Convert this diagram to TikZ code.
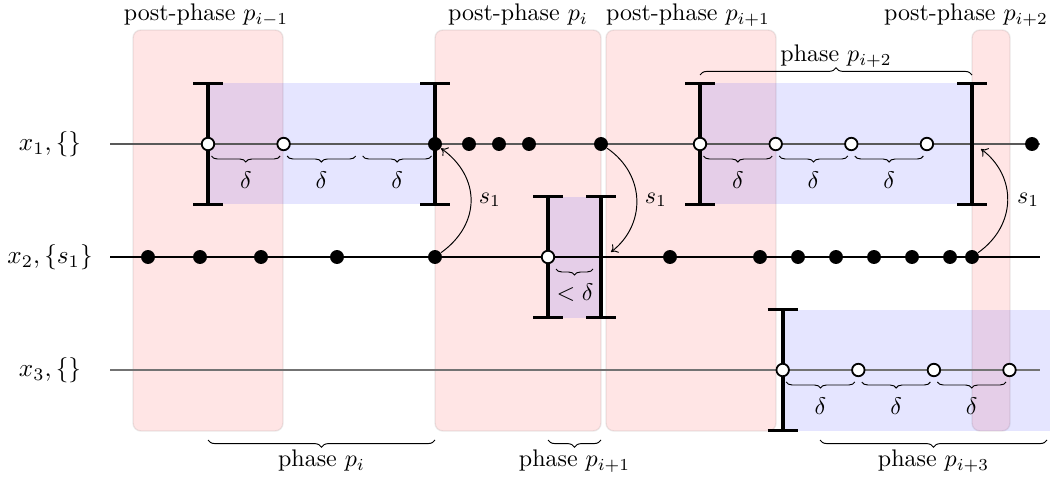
\documentclass[tikz,border=0pt]{standalone}
\usetikzlibrary{decorations.pathreplacing,arrows.meta}
\begin{document}
\begin{tikzpicture}[x=0.4167pt,y=-0.4167pt,
  fdot/.style={circle,fill=black,inner sep=0pt,minimum size=5.8pt},
  odot/.style={circle,draw=black,fill=white,line width=0.75pt,inner sep=0pt,minimum size=5.2pt},
  postbox/.style={fill=red,fill opacity=0.1,draw=black,draw opacity=0.08,line width=0.6pt,rounded corners=3.3pt},
  phasebox/.style={fill=blue,fill opacity=0.1},
  ibar/.style={line width=1.6pt},
  dbrace/.style={decorate,decoration={brace,mirror,amplitude=2.5pt},line width=0.4pt},
  pbrace/.style={decorate,decoration={brace,amplitude=3pt},line width=0.4pt},
  pbracem/.style={decorate,decoration={brace,mirror,amplitude=3pt},line width=0.4pt},
  sarrow/.style={-{To[length=2.6pt,width=4.4pt]},line width=0.4pt},
  lbl/.style={inner sep=1pt},
  rowlbl/.style={inner sep=1pt,scale=1.05}
]
\useasboundingbox (0,0) rectangle (1057,480);

% post-phase boxes
\draw[postbox] (133,30) rectangle (283,431);
\draw[postbox] (435,30) rectangle (601,431);
\draw[postbox] (606,30) rectangle (776,431);
\draw[postbox] (972,30) rectangle (1010,431);

% phase boxes
\fill[phasebox] (208,83) rectangle (435,204);
\fill[phasebox] (548,197) rectangle (601,318);
\fill[phasebox] (700,83) rectangle (972,204);
\fill[phasebox] (782,310) rectangle (1050,431);

% process lines
\coordinate (l1s) at (110,144); \coordinate (l1e) at (1040,144);
\coordinate (l2s) at (110,257); \coordinate (l2e) at (1040,257);
\coordinate (l3s) at (110,370); \coordinate (l3e) at (1040,370);
\draw[black!65,line width=0.5pt] (l1s) -- (l1e);
\draw[black,line width=0.5pt] (l2s) -- (l2e);
\draw[black!55,line width=0.8pt] (l3s) -- (l3e);

% row labels
\node[rowlbl] (r1) at (50,144) {$x_1, \{\}$};
\node[rowlbl] (r2) at (50,257) {$x_2, \{s_1\}$};
\node[rowlbl] (r3) at (50,370) {$x_3, \{\}$};

% delta braces
\foreach \a/\b in {208/283.6,283.6/359.2,359.2/435,700/775.7,775.7/851.3,851.3/926.9}{
  \draw[dbrace] (\a+3.5,156) -- (\b-3.5,156);
  \node[lbl] at ({(\a+\b)/2},180) {$\delta$};
}
\foreach \a/\b in {782.7/858.3,858.3/933.9,933.9/1009.5}{
  \draw[dbrace] (\a+3.5,382) -- (\b-3.5,382);
  \node[lbl] at ({(\a+\b)/2},406) {$\delta$};
}
\draw[dbrace] (556,269) -- (593,269);
\node[lbl] at (575,293) {$<\delta$};

% I-bars
\foreach \x/\y in {208/144,435/144,700/144,972/144,548/257,601/257,782.7/370}{
  \draw[ibar] (\x-15,\y-60.5) -- (\x+15,\y-60.5)
              (\x,\y-60.5) -- (\x,\y+60.5)
              (\x-15,\y+60.5) -- (\x+15,\y+60.5);
}

% dots on x1
\node[odot] (a0) at (208,144) {};
\node[odot] (a0b) at (283.6,144) {};
\node[fdot] (a1) at (435,144) {};
\node[fdot] (a2) at (469,144) {};
\node[fdot] (a3) at (499,144) {};
\node[fdot] (a4) at (529,144) {};
\node[fdot] (a5) at (601,144) {};
\node[odot] (a6) at (700,144) {};
\node[odot] (a7) at (775.7,144) {};
\node[odot] (a8) at (851.3,144) {};
\node[odot] (a9) at (926.9,144) {};
\node[fdot] (a10) at (1032,144) {};

% dots on x2
\node[fdot] (b1) at (148,257) {};
\node[fdot] (b2) at (200,257) {};
\node[fdot] (b3) at (261,257) {};
\node[fdot] (b4) at (337,257) {};
\node[fdot] (b5) at (435,257) {};
\node[odot] (b6) at (548,257) {};
\node[fdot] (b7) at (670,257) {};
\node[fdot] (b8) at (760,257) {};
\node[fdot] (b9) at (798,257) {};
\node[fdot] (b10) at (836,257) {};
\node[fdot] (b11) at (874,257) {};
\node[fdot] (b12) at (912,257) {};
\node[fdot] (b13) at (950,257) {};
\node[fdot] (b14) at (972,257) {};

% dots on x3
\node[odot] (c1) at (782.7,370) {};
\node[odot] (c2) at (858.3,370) {};
\node[odot] (c3) at (933.9,370) {};
\node[odot] (c4) at (1009.5,370) {};

% message arrows
\coordinate (t2) at (611,252);
\coordinate (t3) at (981,149);
\draw[sarrow] (b5) .. controls (481,224) and (481,177) .. (a1);
\draw[sarrow] (a5) .. controls (646,175) and (646,225) .. (t2);
\draw[sarrow] (b14) .. controls (1017,225) and (1017,176) .. (t3);
\node[lbl] at (490,200) {$s_1$};
\node[lbl] at (656,200) {$s_1$};
\node[lbl] at (1028,200) {$s_1$};

% post-phase labels
\node[lbl] at (206,15) {post-phase $p_{i-1}$};
\node[lbl] at (518,15) {post-phase $p_i$};
\node[lbl] at (688,15) {post-phase $p_{i+1}$};
\node[lbl] at (966,15) {post-phase $p_{i+2}$};

% phase braces
\draw[pbrace] (700,75) -- (972,75);
\node[lbl] at (836,56) {phase $p_{i+2}$};
\draw[pbracem] (208,440) -- (435,440);
\node[lbl] at (321.5,461) {phase $p_i$};
\draw[pbracem] (548,440) -- (601,440);
\node[lbl] at (574.5,461) {phase $p_{i+1}$};
\draw[pbracem] (820,440) -- (1047,440);
\node[lbl] at (933.5,461) {phase $p_{i+3}$};
\end{tikzpicture}
\end{document}
